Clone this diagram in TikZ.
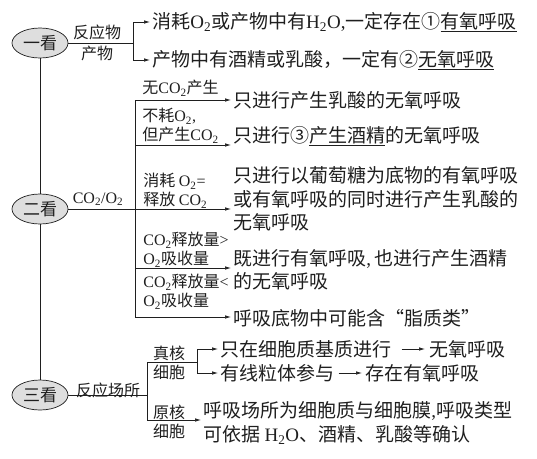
\documentclass[tikz,border=0pt]{standalone}
\usepackage{fontspec}
\setmainfont{Liberation Serif}
\newfontfamily\cjk{Noto Sans CJK SC}
\usetikzlibrary{arrows.meta,shapes.geometric}

\newcommand\ox{{\rmfamily O\textsubscript{2}}}
\newcommand\coo{{\rmfamily CO\textsubscript{2}}}
\newcommand\hto{{\rmfamily H\textsubscript{2}O}}

\begin{document}
\begin{tikzpicture}[x=1pt,y=-1pt,>={Latex[length=6pt,width=3.5pt]},
  line width=0.7pt,color=black!88,
  kan/.style={ellipse,draw,fill=black!13,minimum width=56pt,minimum height=30pt,
    inner sep=0pt,font=\cjk\fontsize{17}{20}\selectfont},
  res/.style={anchor=west,inner sep=0pt,align=left,font=\cjk\fontsize{19}{23.5}\selectfont},
  lab/.style={inner sep=0pt,align=left,font=\cjk\fontsize{16}{19}\selectfont},
  arw/.style={->,shorten >=2pt}]
  \useasboundingbox (0,0) rectangle (537,458);
  % the three looks on the trunk
  \node[kan] (k1) at (40,43) {一看};
  \node[kan] (k2) at (40,209) {二看};
  \node[kan] (k3) at (40,395) {三看};
  \draw (k1) -- (k2);
  \draw (k2) -- (k3);

  % first look
  \coordinate (b1) at (133,43);
  \node[lab] (l1) at (97,32) {反应物};
  \node[lab] (l2) at (97,53) {产物};
  \node[res] (r1) at (152,22) {消耗\ox 或产物中有\hto{\rmfamily ,}一定存在①\underline{有氧呼吸}};
  \node[res] (r2) at (152,60) {产物中有酒精或乳酸，一定有②\underline{无氧呼吸}};
  \draw (k1) -- (b1);
  \draw[arw] (b1) |- (r1);
  \draw[arw] (b1) |- (r2);

  % second look
  \coordinate (a1) at (135,100);
  \coordinate (a2) at (135,145);
  \coordinate (a4) at (135,268);
  \coordinate (a5) at (135,317);
  \node[lab] (l3) at (98,199) {{\rmfamily CO\textsubscript{2}/O\textsubscript{2}}};
  \node[lab,anchor=west] (m1) at (142,88) {无\coo 产生};
  \node[lab,anchor=west] (m2) at (142,126) {不耗\ox{\rmfamily ,}\\但产生\coo};
  \node[lab,anchor=west] (m3) at (143,191) {消耗 \ox{\rmfamily =}\\释放 \coo};
  \node[lab,anchor=west] (m4) at (143,250) {\coo 释放量{\rmfamily >}\\\ox 吸收量};
  \node[lab,anchor=west] (m5) at (143,292) {\coo 释放量{\rmfamily <}\\\ox 吸收量};
  \node[res] (s1) at (233,100) {只进行产生乳酸的无氧呼吸};
  \node[res] (s2) at (233,136) {只进行③\underline{产生酒精}的无氧呼吸};
  \node[res] (s3) at (233,199) {只进行以葡萄糖为底物的有氧呼吸\\或有氧呼吸的同时进行产生乳酸的\\无氧呼吸};
  \node[res] (s4) at (233,270) {既进行有氧呼吸{\rmfamily ,\,}也进行产生酒精\\的无氧呼吸};
  \node[res] (s5) at (233,318) {呼吸底物中可能含“脂质类”};
  \draw (a1) -- (a5);
  \draw[arw] (a1) -- (a1 -| s1.west);
  \draw[arw] (a2) -- (a2 -| s2.west);
  \draw[arw] (k2) -- (k2 -| s3.west);
  \draw[arw] (a4) -- (a4 -| s4.west);
  \draw[arw] (a5) -- (a5 -| s5.west);

  % third look
  \coordinate (c0) at (147,395);
  \coordinate (c1) at (147,362);
  \coordinate (c2) at (147,420);
  \coordinate (c3) at (197,362);
  \node[lab] (l4) at (108,390) {反应场所};
  \node[lab] (n1) at (169,363) {真核\\细胞};
  \node[lab] (n2) at (169,422) {原核\\细胞};
  \node[res] (t1) at (220,349) {只在细胞质基质进行};
  \node[res] (t1r) at (429,349) {无氧呼吸};
  \node[res] (t2) at (220,373) {有线粒体参与};
  \node[res] (t2r) at (365,373) {存在有氧呼吸};
  \node[res] (t3) at (203,423) {呼吸场所为细胞质与细胞膜{\rmfamily ,}呼吸类型\\可依据 \hto 、酒精、乳酸等确认};
  \draw (k3) -- (c0);
  \draw (c1) -- (c2);
  \draw (c1) -- (c3);
  \draw[arw] (c3) |- (t1);
  \draw[arw] (c3) |- (t2);
  \draw[arw,shorten <=10pt,shorten >=4pt] (t1) -- (t1r);
  \draw[arw,shorten <=4pt,shorten >=3pt] (t2) -- (t2r);
  \draw[arw] (c2) -- (c2 -| t3.west);
\end{tikzpicture}
\end{document}
